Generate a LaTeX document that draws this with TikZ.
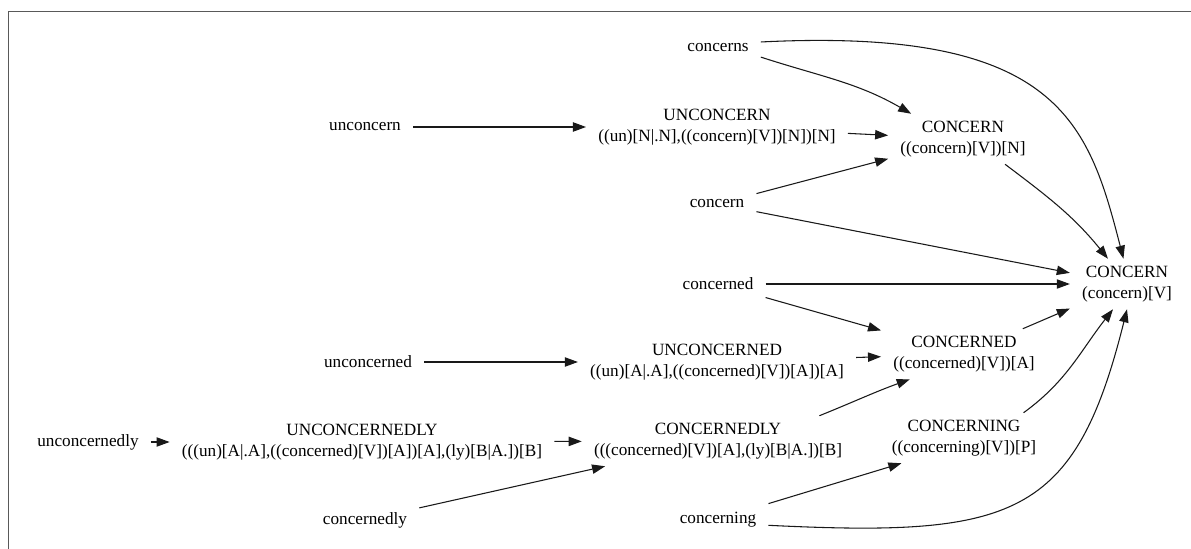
\documentclass[tikz,border=0pt]{standalone}
\usepackage{fontspec}
\setmainfont{Liberation Serif}
\usetikzlibrary{arrows.meta}
\begin{document}
\begin{tikzpicture}[x=0.75pt,y=0.75pt,
  lex/.style={rectangle, inner xsep=9pt, inner ysep=1pt, minimum height=37.5pt,
    align=center, font=\fontsize{12.9}{15.75}\selectfont},
  link/.style={draw=black!90, line width=0.8pt, -{Triangle[length=9.8pt,width=7pt]}},
  frame/.style={draw=black!65, line width=1pt}]
\useasboundingbox (0,0) rectangle (1191,-549);
\draw[frame] (8.5,-549) -- (8.5,-11.5) -- (1191,-11.5);

% word forms and their analyses
\node[lex] (concerns) at (718,-48) {concerns};
\node[lex] (unconcern) at (365,-127) {unconcern};
\node[lex] (uN) at (717,-127) {UNCONCERN\\((un)[N|.N],((concern)[V])[N])[N]};
\node[lex] (cN) at (963,-139) {CONCERN\\((concern)[V])[N]};
\node[lex] (concern) at (717,-204) {concern};
\node[lex] (cV) at (1127,-284) {CONCERN\\(concern)[V]};
\node[lex] (concerned) at (718,-284) {concerned};
\node[lex] (cA) at (964,-354) {CONCERNED\\((concerned)[V])[A]};
\node[lex] (unconcerned) at (368,-362) {unconcerned};
\node[lex] (uA) at (717,-362) {UNCONCERNED\\((un)[A|.A],((concerned)[V])[A])[A]};
\node[lex] (unconcernedly) at (88,-442) {unconcernedly};
\node[lex] (uB) at (362,-442) {UNCONCERNEDLY\\(((un)[A|.A],((concerned)[V])[A])[A],(ly)[B|A.])[B]};
\node[lex] (cB) at (718,-441) {CONCERNEDLY\\(((concerned)[V])[A],(ly)[B|A.])[B]};
\node[lex] (cP) at (964,-438) {CONCERNING\\((concerning)[V])[P]};
\node[lex] (concernedly) at (365,-520) {concernedly};
\node[lex] (concerning) at (718,-520) {concerning};

% derivation links
\draw[link] (concerns.-12) to[out=-18,in=150] (cN.154);
\draw[link] (concerns.8) .. controls +(298,15) and +(-35,136) .. (cV.98);
\draw[link] (unconcern) -- (uN);
\draw[link] (uN) -- (cN);
\draw[link] (concern) -- (cN);
\draw[link] (concern) -- (cV);
\draw[link] (cN.-31) to[out=-37,in=129] (cV.127);
\draw[link] (concerned) -- (cV);
\draw[link] (concerned) -- (cA);
\draw[link] (cA) -- (cV);
\draw[link] (unconcerned) -- (uA);
\draw[link] (uA) -- (cA);
\draw[link] (unconcernedly) -- (uB);
\draw[link] (uB) -- (cB);
\draw[link] (concernedly) -- (cB);
\draw[link] (cB.14) to[out=22,in=-160] (cA.-155);
\draw[link] (concerning.18) -- (cP.-158);
\draw[link] (cP.23) to[out=36,in=-128] (cV.-119);
\draw[link] (concerning.-6) .. controls +(245,-12) and +(-52,-209) .. (cV.-90);
\end{tikzpicture}
\end{document}
